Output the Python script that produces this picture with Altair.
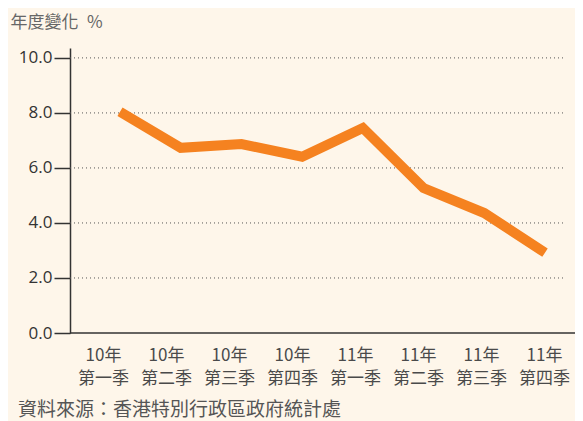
import altair as alt
import pandas as pd

quarters = ["10年\n第一季", "10年\n第二季", "10年\n第三季", "10年\n第四季",
            "11年\n第一季", "11年\n第二季", "11年\n第三季", "11年\n第四季"]
values = [8.04, 6.73, 6.87, 6.41, 7.45, 5.27, 4.36, 2.92]
y_ticks = [0, 2, 4, 6, 8, 10]
grid_values = [2, 4, 6, 8, 10]
y_title = "年度變化\u2002%"
source = "資料來源：香港特別行政區政府統計處"

df = pd.DataFrame({"q": quarters, "v": values})
grid_df = pd.DataFrame({"g": grid_values})
base_df = pd.DataFrame({"b": [0]})

FONT = "Noto Sans CJK TC"
W, H = 505, 285

yscale = alt.Scale(domain=[0, 10.36], nice=False, zero=True)
yaxis = alt.Axis(values=y_ticks, format=".1f", grid=False, tickSize=16,
                 labelPadding=2, labelFontSize=17, labelColor="#333333",
                 labelFont="Open Sans", domainColor="#333333", domainWidth=1.5,
                 tickColor="#333333", tickWidth=1.5,
                 title=y_title, titleAngle=0, titleAlign="left",
                 titleBaseline="middle", titleX=-60, titleY=-26,
                 titleFont=FONT, titleFontSize=17, titleFontWeight="normal",
                 titleColor="#666666")

grid = alt.Chart(grid_df).mark_rule(color="#555555", strokeDash=[1, 3], strokeWidth=1).encode(
    y=alt.Y("g:Q", scale=yscale, axis=yaxis),
    x=alt.value(0),
    x2=alt.value(495),
)

baseline = alt.Chart(base_df).mark_rule(color="#333333", strokeWidth=1.5).encode(
    y=alt.Y("b:Q", scale=yscale, axis=yaxis),
    x=alt.value(0),
    x2=alt.value(W),
)

line = alt.Chart(df).mark_line(color="#F58220", strokeWidth=10, strokeCap="butt", strokeJoin="miter").encode(
    x=alt.X("q:N", sort=quarters, scale=alt.Scale(type="point", range=[50, 475], padding=0), axis=None),
    y=alt.Y("v:Q", scale=yscale, axis=yaxis),
)

labels = alt.Chart(df).mark_point(opacity=0).encode(
    x=alt.X("q:N", sort=quarters, scale=alt.Scale(type="point", range=[33, 474], padding=0),
            axis=alt.Axis(title=None, domain=False, ticks=False, labelAngle=0,
                          labelExpr="split(datum.label, '\\n')", labelPadding=14,
                          labelFont=FONT, labelFontSize=17, labelColor="#4a4a4a",
                          labelLineHeight=23)),
    y=alt.Y("v:Q", scale=yscale, axis=yaxis),
)

chart = alt.layer(grid, baseline, labels, line).resolve_scale(x="independent").properties(
    width=W, height=H,
    background="#FEF6EA",
    autosize=alt.AutoSizeParams(type="none"),
    padding={"left": 62, "top": 40, "right": 0, "bottom": 92},
    title=alt.TitleParams(text=source, orient="bottom", anchor="start", frame="group",
                          dx=-52, offset=15, font=FONT, fontSize=19,
                          fontWeight="normal", color="#555555"),
).configure_view(stroke=None)

chart.save("out.html", embed_options={"renderer": "svg", "actions": False})
